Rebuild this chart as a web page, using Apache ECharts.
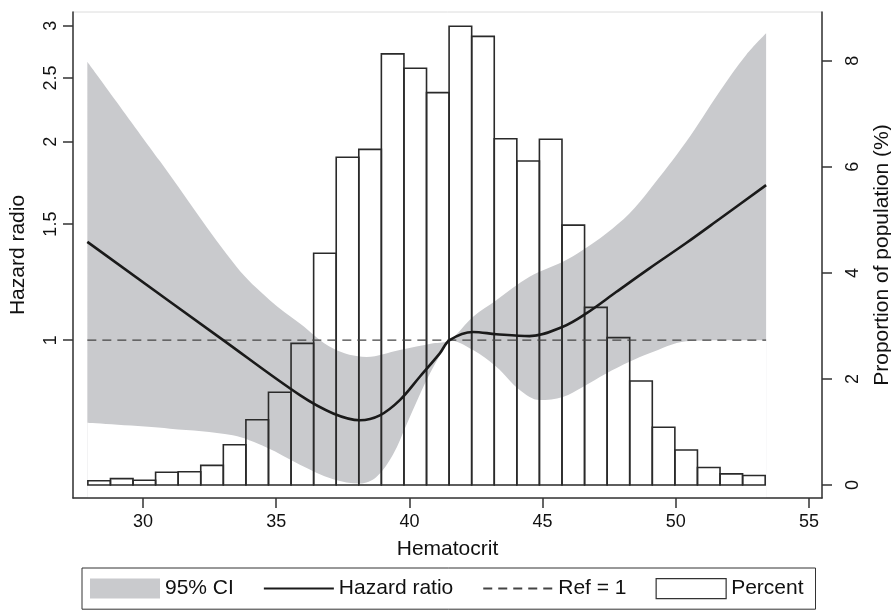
<!DOCTYPE html>
<html>
<head>
<meta charset="utf-8">
<script src="https://cdn.jsdelivr.net/npm/echarts@6/dist/echarts.min.js"></script>
<style>
html,body{margin:0;padding:0;background:#fff;}
#chart{width:891px;height:613px;}
</style>
</head>
<body>
<div id="chart"></div>
<script>
// ---- data ----
const xTicks = [30, 35, 40, 45, 50, 55];
const hrTicks = [1, 1.5, 2, 2.5, 3];
const pctTicks = [0, 2, 4, 6, 8];

// histogram: 30 bins starting at binStart, each binWidth wide
const binStart = 27.93;
const binWidth = 0.8475;
const percentValues = [0.08, 0.12, 0.09, 0.24, 0.25, 0.37, 0.76, 1.23, 1.75, 2.67,
  4.37, 6.18, 6.33, 8.13, 7.86, 7.40, 8.65, 8.46, 6.53, 6.11,
  6.52, 4.90, 3.35, 2.78, 1.96, 1.09, 0.66, 0.33, 0.21, 0.18];

// hazard ratio curve
const hrX = [27.91, 33.01, 35.89, 37.14, 38.14, 38.89, 39.64, 40.39, 41.14, 41.51,
  42.39, 43.26, 44.51, 45.76, 46.64, 47.76, 49.01, 50.39, 51.64, 53.39];
const hrY = [1.410, 1.000, 0.825, 0.774, 0.756, 0.769, 0.811, 0.880, 0.955, 1.000,
  1.029, 1.021, 1.014, 1.048, 1.098, 1.183, 1.285, 1.404, 1.527, 1.719];

// 95% CI upper bound
const ciUpX = [27.91, 30.64, 33.51, 34.76, 35.89, 37.14, 38.39, 39.64, 40.89, 41.51,
  42.39, 43.26, 44.51, 45.76, 46.51, 47.39, 48.26, 49.01, 50.39, 51.64, 52.64, 53.39];
const ciUpY = [2.646, 1.868, 1.292, 1.150, 1.060, 0.971, 0.943, 0.966, 0.989, 1.000,
  1.085, 1.150, 1.248, 1.315, 1.370, 1.452, 1.557, 1.690, 2.000, 2.383, 2.709, 2.922];

// 95% CI lower bound
const ciLoX = [27.91, 31.01, 33.37, 34.64, 35.89, 37.14, 38.14, 38.76, 39.39, 39.89, 40.64, 41.26, 41.51,
  42.39, 43.26, 44.14, 44.89, 45.76, 46.51, 47.39, 48.26, 49.01, 50.39, 51.64, 53.39];
const ciLoY = [0.749, 0.734, 0.717, 0.687, 0.647, 0.615, 0.606, 0.620, 0.671, 0.744, 0.869, 0.966, 1.000,
  0.966, 0.911, 0.840, 0.811, 0.820, 0.849, 0.890, 0.927, 0.955, 0.996, 1.000, 1.000];

// reference line HR = 1 across data range
const refX = [27.91, 53.39];
const refValue = 1;

// ---- build ----
const zip = (xs, ys) => xs.map((x, i) => [x, ys[i]]);
const barData = percentValues.map((p, i) => [binStart + i * binWidth, binStart + (i + 1) * binWidth, p]);

const FONT = "'Liberation Sans', Arial, Helvetica, sans-serif";
const BAND = '#c9cacd';
const AX = '#333';
const TXT = '#111';

const chart = echarts.init(document.getElementById('chart'), null, {renderer: 'canvas'});
chart.setOption({
  animation: false,
  backgroundColor: '#fff',
  textStyle: {fontFamily: FONT},
  grid: {left: 73, right: 69, top: 12, bottom: 115, containLabel: false, outerBoundsMode: 'none',
    show: true, borderColor: '#dcdcdc', borderWidth: 1, backgroundColor: 'transparent'},
  xAxis: {
    type: 'value', min: 27.372, max: 55.488, z: 10,
    name: 'Hematocrit', nameLocation: 'middle', nameGap: 41,
    nameTextStyle: {fontSize: 21, color: TXT, fontFamily: FONT},
    axisLine: {show: true, onZero: false, lineStyle: {color: AX, width: 1.5}},
    axisTick: {show: true, length: 10, customValues: xTicks, lineStyle: {color: AX, width: 1.5}},
    axisLabel: {customValues: xTicks, fontSize: 18, color: TXT, margin: 15, fontFamily: FONT},
    splitLine: {show: false}
  },
  yAxis: [{
    type: 'log', logBase: 10, min: 0.576, max: 3.148, position: 'left', z: 10,
    name: 'Hazard radio', nameLocation: 'middle', nameGap: 44, nameRotate: 90,
    nameTextStyle: {fontSize: 21, color: TXT, fontFamily: FONT},
    axisLine: {show: true, lineStyle: {color: AX, width: 1.5}},
    axisTick: {show: true, length: 10, customValues: hrTicks, lineStyle: {color: AX, width: 1.5}},
    axisLabel: {customValues: hrTicks, rotate: 90, fontSize: 18, color: TXT, margin: 13, fontFamily: FONT},
    splitLine: {show: false}
  }, {
    type: 'value', min: -0.245, max: 8.92, position: 'right', z: 10,
    name: 'Proportion of population (%)', nameLocation: 'middle', nameGap: 50, nameRotate: 90,
    nameTextStyle: {fontSize: 21, color: TXT, fontFamily: FONT},
    axisLine: {show: true, lineStyle: {color: AX, width: 1.5}},
    axisTick: {show: true, length: 10, customValues: pctTicks, lineStyle: {color: AX, width: 1.5}},
    axisLabel: {customValues: pctTicks, rotate: 90, fontSize: 18, color: TXT, margin: 22, fontFamily: FONT},
    splitLine: {show: false}
  }],
  legend: {
    left: 82, top: 568, orient: 'horizontal',
    itemWidth: 70, itemHeight: 20, itemGap: 29,
    padding: [10, 12, 10, 8],
    borderColor: '#333', borderWidth: 1,
    textStyle: {fontSize: 21, color: TXT, fontFamily: FONT},
    data: [
      {name: '95% CI', icon: 'rect', itemStyle: {color: BAND, borderWidth: 0}},
      {name: 'Hazard ratio', itemStyle: {opacity: 0}},
      {name: 'Ref = 1', itemStyle: {opacity: 0}},
      {name: 'Percent', icon: 'rect', itemStyle: {color: '#fff', borderColor: '#333', borderWidth: 1.2}}
    ]
  },
  series: [{
    name: '95% CI', type: 'line', yAxisIndex: 0, data: zip(ciUpX, ciUpY),
    smooth: 0.35, symbol: 'none', z: 1,
    itemStyle: {color: BAND},
    lineStyle: {width: 0, color: BAND},
    areaStyle: {color: BAND, opacity: 1, origin: 'start'}
  }, {
    name: 'CI lower', type: 'line', yAxisIndex: 0, data: zip(ciLoX, ciLoY),
    smooth: 0.35, symbol: 'none', z: 1,
    itemStyle: {color: '#fff'},
    lineStyle: {width: 0, color: '#fff'},
    areaStyle: {color: '#fff', opacity: 1, origin: 'start'}
  }, {
    name: 'Percent', type: 'custom', xAxisIndex: 0, yAxisIndex: 1, z: 3,
    data: barData,
    encode: {x: [0, 1], y: 2},
    itemStyle: {color: '#fff', borderColor: '#333'},
    renderItem: function (params, api) {
      const p0 = api.coord([api.value(0), 0]);
      const p1 = api.coord([api.value(1), api.value(2)]);
      return {
        type: 'rect',
        shape: {x: p0[0], y: p1[1], width: p1[0] - p0[0], height: p0[1] - p1[1]},
        style: {fill: 'none', stroke: '#2a2a2a', lineWidth: 1.6}
      };
    }
  }, {
    name: 'Ref = 1', type: 'line', yAxisIndex: 0,
    data: refX.map(x => [x, refValue]),
    symbol: 'none', z: 4,
    itemStyle: {color: '#444'},
    lineStyle: {color: '#444', width: 1.2, type: [9, 6]}
  }, {
    name: 'Hazard ratio', type: 'line', yAxisIndex: 0, data: zip(hrX, hrY),
    smooth: 0.35, symbol: 'none', z: 5,
    itemStyle: {color: '#1a1a1a'},
    lineStyle: {color: '#1a1a1a', width: 2.6}
  }]
});
</script>
</body>
</html>
